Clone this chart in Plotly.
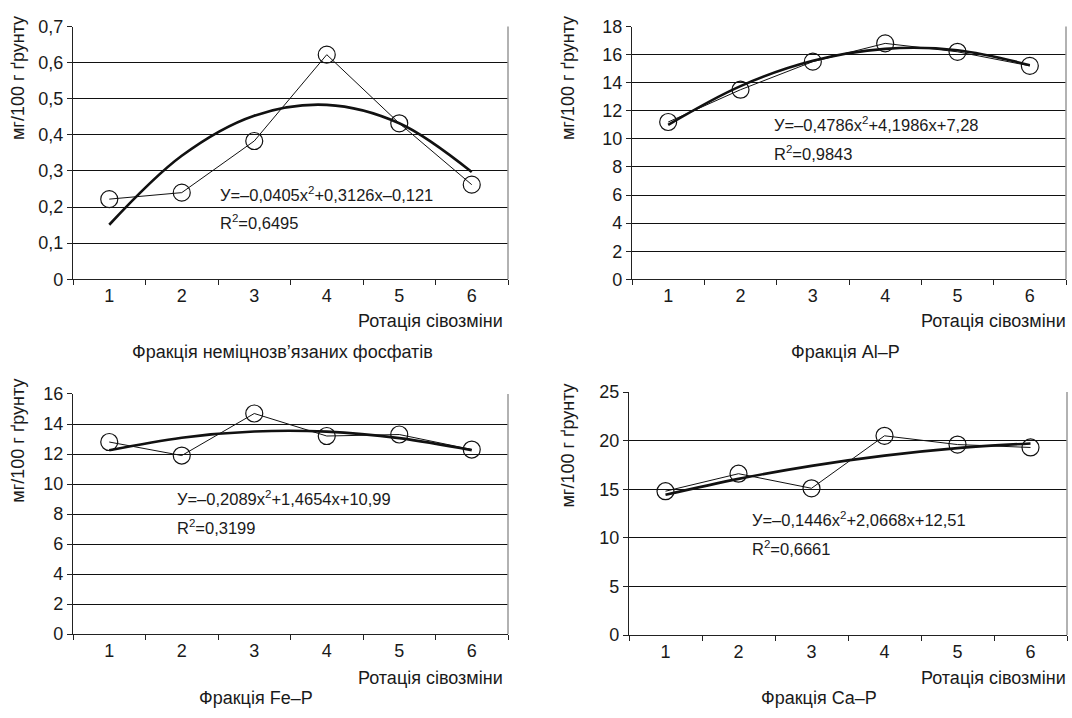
import plotly.graph_objects as go

W, H = 1072, 718

rotations = ["1", "2", "3", "4", "5", "6"]

loose_p = [0.222, 0.240, 0.383, 0.622, 0.432, 0.262]
al_p = [11.2, 13.5, 15.5, 16.8, 16.2, 15.2]
fe_p = [12.8, 11.9, 14.7, 13.2, 13.3, 12.3]
ca_p = [14.8, 16.6, 15.1, 20.5, 19.6, 19.3]

# Polynomial trend line values read at each rotation
loose_trend = [0.151, 0.342, 0.453, 0.483, 0.432, 0.297]
al_trend = [11.00, 13.76, 15.56, 16.41, 16.31, 15.25]
fe_trend = [12.25, 13.09, 13.50, 13.49, 13.06, 12.26]
ca_trend = [14.43, 16.07, 17.41, 18.46, 19.23, 19.71]

equations = [
    "У=–0,0405x<sup>2</sup>+0,3126x–0,121",
    "У=–0,4786x<sup>2</sup>+4,1986x+7,28",
    "У=–0,2089x<sup>2</sup>+1,4654x+10,99",
    "У=–0,1446x<sup>2</sup>+2,0668x+12,51",
]
r2_texts = ["R<sup>2</sup>=0,6495", "R<sup>2</sup>=0,9843", "R<sup>2</sup>=0,3199", "R<sup>2</sup>=0,6661"]
subtitles = ["Фракція неміцнозв’язаних фосфатів", "Фракція Al–P", "Фракція Fe–P", "Фракція Ca–P"]
y_title = "мг/100 г ґрунту"
x_title = "Ротація сівозміни"

y_ranges = [(0, 0.7, 0.1), (0, 18, 2), (0, 16, 2), (0, 25, 5)]

FONT = "Liberation Sans, Arial, sans-serif"
TXT = "#1a1a1a"

# panel plot-area boxes in pixels: (left, right, top, bottom)
boxes = [(73, 508, 17, 277), (632, 1066, 17, 277), (73, 508, 395, 642), (629, 1067, 393, 643)]
# text positions in pixels
ytitle_pos = [(18, 70), (568, 70), (18, 443), (568, 448)]
eq_pos = [(218, 189, 218), (772, 117, 147), (175, 502, 532), (750, 524, 553)]
xtitle_pos = [(505, 320), (1068, 320), (505, 687), (1068, 687)]
sub_pos = [(282, 352), (845, 352), (256, 708), (819, 708)]

def px(x):
    return x / W

def py(y):
    return 1 - y / H

fig = go.Figure()
series = [(loose_p, loose_trend), (al_p, al_trend), (fe_p, fe_trend), (ca_p, ca_trend)]

annotations = []
for i, ((vals, trend), box) in enumerate(zip(series, boxes)):
    n = i + 1
    xa = "x" if n == 1 else f"x{n}"
    ya = "y" if n == 1 else f"y{n}"
    fig.add_trace(go.Scatter(
        x=rotations, y=vals, mode="lines+markers", xaxis=xa, yaxis=ya,
        line=dict(color="#111", width=1),
        marker=dict(symbol="circle-open", size=17, color="#111", line=dict(width=1.2)),
        showlegend=False, hoverinfo="skip"))
    fig.add_trace(go.Scatter(
        x=rotations, y=trend, mode="lines", xaxis=xa, yaxis=ya,
        line=dict(color="#111", width=2.6, shape="spline"),
        showlegend=False, hoverinfo="skip"))
    l, r, t, b = box
    lo, hi, dt = y_ranges[i]
    axis_common = dict(showline=True, linecolor="#222", linewidth=1.2,
                       tickfont=dict(family=FONT, size=18, color=TXT), ticklen=5,
                       tickcolor="#222", ticks="outside")
    fig.layout[f"xaxis{n if n > 1 else ''}"] = dict(
        domain=[px(l), px(r)], anchor=ya, type="category",
        categoryorder="array", categoryarray=rotations,
        range=[-0.5, 5.5], tickson="boundaries", showgrid=False, zeroline=False,
        **axis_common)
    fig.layout[f"yaxis{n if n > 1 else ''}"] = dict(
        domain=[py(b), py(t)], anchor=xa, range=[lo, hi], dtick=dt, tick0=0,
        showgrid=True, gridcolor="#111", gridwidth=1.2, zeroline=False,
        **axis_common)
    # right border of plot area
    fig.add_shape(type="line", xref=f"{xa} domain", yref=f"{ya} domain",
                  x0=1, x1=1, y0=0, y1=1, line=dict(color="#999", width=1.5))

    yx, yy = ytitle_pos[i]
    annotations.append(dict(text=y_title, x=px(yx), y=py(yy), xref="paper", yref="paper",
                            textangle=-90, showarrow=False, xanchor="center", yanchor="middle",
                            font=dict(family=FONT, size=18, color=TXT)))
    ex, ey, ry = eq_pos[i]
    annotations.append(dict(text=equations[i], x=px(ex), y=py(ey), xref="paper", yref="paper",
                            showarrow=False, xanchor="left", yanchor="middle",
                            font=dict(family=FONT, size=16.5, color=TXT)))
    annotations.append(dict(text=r2_texts[i], x=px(ex), y=py(ry), xref="paper", yref="paper",
                            showarrow=False, xanchor="left", yanchor="middle",
                            font=dict(family=FONT, size=16.5, color=TXT)))
    tx, ty = xtitle_pos[i]
    annotations.append(dict(text=x_title, x=px(tx), y=py(ty), xref="paper", yref="paper",
                            showarrow=False, xanchor="right", yanchor="middle",
                            font=dict(family=FONT, size=18, color=TXT)))
    sx, sy = sub_pos[i]
    annotations.append(dict(text=subtitles[i], x=px(sx), y=py(sy), xref="paper", yref="paper",
                            showarrow=False, xanchor="center", yanchor="middle",
                            font=dict(family=FONT, size=18, color=TXT)))

fig.update_layout(
    width=W, height=H, margin=dict(l=0, r=0, t=0, b=0),
    paper_bgcolor="white", plot_bgcolor="white",
    separators=", ", annotations=annotations,
    font=dict(family=FONT, color=TXT),
)

post = (
    "document.documentElement.style.margin='0';"
    "document.body.style.margin='0';document.body.style.overflow='hidden';"
)

fig.write_html("out.html", config={"displayModeBar": False}, post_script=post)
